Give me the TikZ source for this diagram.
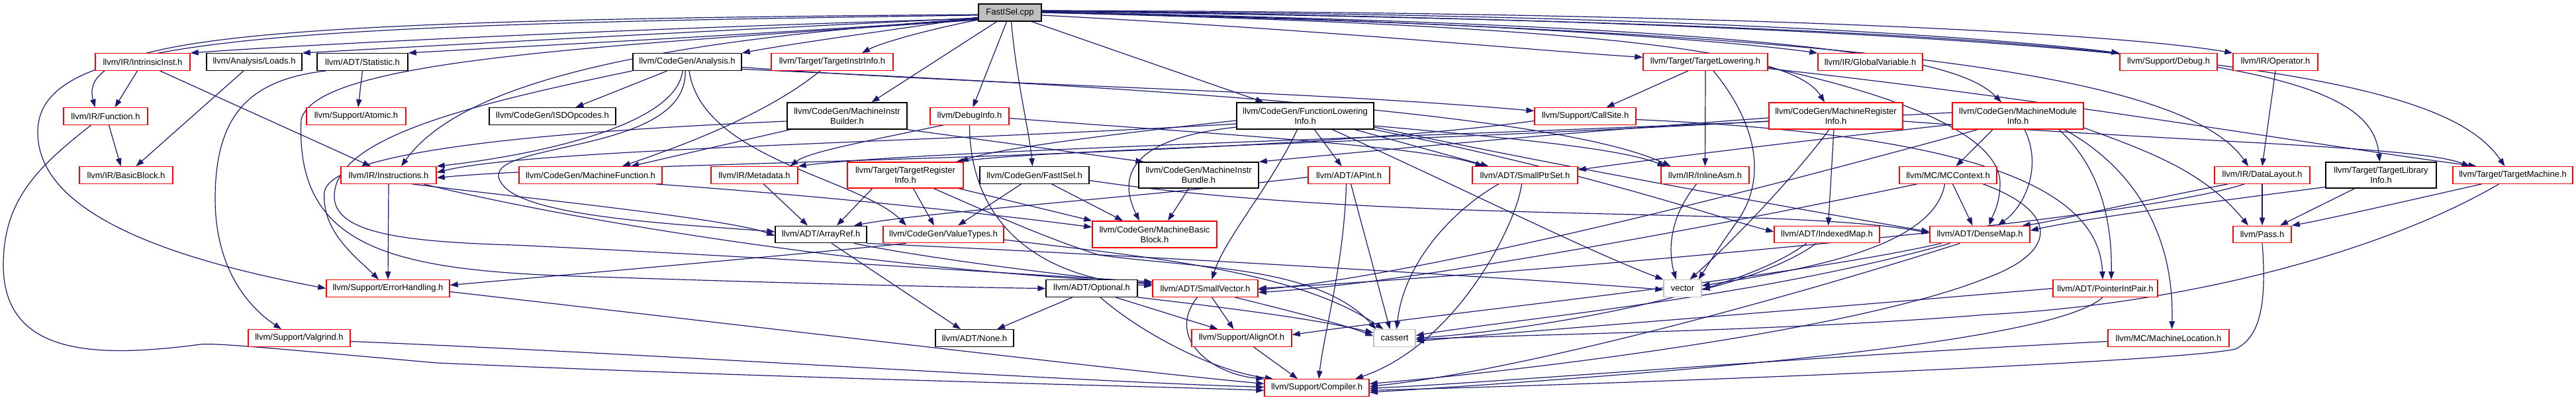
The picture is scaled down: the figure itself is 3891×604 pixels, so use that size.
\documentclass[tikz,border=0pt]{standalone}
\usepackage{fontspec}
\setmainfont{Liberation Sans}
\usetikzlibrary{arrows.meta}
\definecolor{edgeblue}{RGB}{25,25,112}
\definecolor{nodegray}{RGB}{191,191,191}
\pgfdeclarelayer{bg}
\pgfsetlayers{bg,main}
\begin{document}
\begin{tikzpicture}[x=1pt,y=-1pt,
  box/.style={draw, line width=1.4pt, inner sep=0pt, minimum height=25.5pt, align=center, font=\fontsize{13}{15}\selectfont, text=black, fill=white},
  rbox/.style={box, draw=red},
  kbox/.style={box, draw=black},
  gbox/.style={box, draw=nodegray},
  dep/.style={draw=edgeblue, line width=1.2pt, -{Triangle[length=12pt,width=8.5pt]}},
]
\useasboundingbox (0,0) rectangle (3891,604);
% nodes
\node[kbox, fill=nodegray, minimum width=95pt, minimum height=26pt] (cpp) at (1525.5,19) {FastISel.cpp};
% row 1
\node[rbox, minimum width=143pt] (intr) at (215.5,93.5) {llvm/IR/IntrinsicInst.h};
\node[kbox, minimum width=144pt] (loads) at (384,93.5) {llvm/Analysis/Loads.h};
\node[kbox, minimum width=137pt] (stat) at (547.5,93.5) {llvm/ADT/Statistic.h};
\node[kbox, minimum width=164pt] (cga) at (1038,93.5) {llvm/CodeGen/Analysis.h};
\node[rbox, minimum width=184pt] (tii) at (1257,93.5) {llvm/Target/TargetInstrInfo.h};
\node[rbox, minimum width=188pt] (tl) at (2576,93.5) {llvm/Target/TargetLowering.h};
\node[rbox, minimum width=158pt] (gv) at (2825,93.5) {llvm/IR/GlobalVariable.h};
\node[rbox, minimum width=147pt] (dbg) at (3275.5,93.5) {llvm/Support/Debug.h};
\node[rbox, minimum width=128pt] (op) at (3437,93.5) {llvm/IR/Operator.h};
% row 2
\node[rbox, minimum width=127pt] (func) at (159.5,175.5) {llvm/IR/Function.h};
\node[rbox, minimum width=150pt] (atomic) at (538,175.5) {llvm/Support/Atomic.h};
\node[kbox, minimum width=191pt] (isd) at (834.5,175.5) {llvm/CodeGen/ISDOpcodes.h};
\node[kbox, minimum width=181pt, minimum height=40pt] (mib) at (1279.5,175) {llvm/CodeGen/MachineInstr\\Builder.h};
\node[rbox, minimum width=119pt] (dinfo) at (1464.5,175.5) {llvm/DebugInfo.h};
\node[kbox, minimum width=207pt, minimum height=40pt] (fli) at (1971.5,175) {llvm/CodeGen/FunctionLowering\\Info.h};
\node[rbox, minimum width=153pt] (cs) at (2394.5,175.5) {llvm/Support/CallSite.h};
\node[rbox, minimum width=202pt, minimum height=40pt] (mri) at (2773,175) {llvm/CodeGen/MachineRegister\\Info.h};
\node[rbox, minimum width=198pt, minimum height=40pt] (mmi) at (3048,175) {llvm/CodeGen/MachineModule\\Info.h};
% row 3
\node[rbox, minimum width=141pt] (bb) at (190.5,264.5) {llvm/IR/BasicBlock.h};
\node[rbox, minimum width=144pt] (inst) at (587,264.5) {llvm/IR/Instructions.h};
\node[rbox, minimum width=216pt] (mf) at (892,264.5) {llvm/CodeGen/MachineFunction.h};
\node[rbox, minimum width=131pt] (md) at (1139.5,264.5) {llvm/IR/Metadata.h};
\node[rbox, minimum width=175pt, minimum height=39pt] (tri) at (1367.5,264.5) {llvm/Target/TargetRegister\\Info.h};
\node[kbox, minimum width=165pt] (fisel) at (1562.5,264.5) {llvm/CodeGen/FastISel.h};
\node[kbox, minimum width=181pt, minimum height=39pt] (mibundle) at (1810.5,264.5) {llvm/CodeGen/MachineInstr\\Bundle.h};
\node[rbox, minimum width=123pt] (apint) at (2037.5,264.5) {llvm/ADT/APInt.h};
\node[rbox, minimum width=159pt] (sps) at (2303.5,264.5) {llvm/ADT/SmallPtrSet.h};
\node[rbox, minimum width=133pt] (iasm) at (2575.5,264.5) {llvm/IR/InlineAsm.h};
\node[rbox, minimum width=147pt] (mcc) at (2942.5,264.5) {llvm/MC/MCContext.h};
\node[rbox, minimum width=144pt] (dl) at (3417,264.5) {llvm/IR/DataLayout.h};
\node[kbox, minimum width=167pt, minimum height=39pt] (tli) at (3596.5,264.5) {llvm/Target/TargetLibrary\\Info.h};
\node[rbox, minimum width=181pt] (tm) at (3795.5,264.5) {llvm/Target/TargetMachine.h};
% row 4
\node[kbox, minimum width=138pt] (aref) at (1240,354) {llvm/ADT/ArrayRef.h};
\node[rbox, minimum width=182pt] (vt) at (1425,354) {llvm/CodeGen/ValueTypes.h};
\node[rbox, minimum width=188pt, minimum height=40pt] (mbb) at (1744,354) {llvm/CodeGen/MachineBasic\\Block.h};
\node[rbox, minimum width=159pt] (imap) at (2759.5,354) {llvm/ADT/IndexedMap.h};
\node[rbox, minimum width=151pt] (dmap) at (2990.5,354) {llvm/ADT/DenseMap.h};
\node[rbox, minimum width=88pt] (pass) at (3417,354) {llvm/Pass.h};
% row 5
\node[rbox, minimum width=186pt] (eh) at (586,435.5) {llvm/Support/ErrorHandling.h};
\node[kbox, minimum width=138pt] (opt) at (1649,435.5) {llvm/ADT/Optional.h};
\node[rbox, minimum width=159pt] (sv) at (1820.5,435.5) {llvm/ADT/SmallVector.h};
\node[gbox, minimum width=57pt] (vec) at (2541.5,435.5) {vector};
\node[rbox, minimum width=158pt] (pip) at (3180,435.5) {llvm/ADT/PointerIntPair.h};
% row 6
\node[rbox, minimum width=154pt] (valg) at (452,510.5) {llvm/Support/Valgrind.h};
\node[kbox, minimum width=118pt] (nonen) at (1472,510.5) {llvm/ADT/None.h};
\node[rbox, minimum width=151pt] (align) at (1875.5,510.5) {llvm/Support/AlignOf.h};
\node[gbox, minimum width=63pt] (cass) at (2106.5,510.5) {cassert};
\node[rbox, minimum width=183pt] (mloc) at (3275.5,510.5) {llvm/MC/MachineLocation.h};
% row 7
\node[rbox, minimum width=158pt] (comp) at (1989,585.5) {llvm/Support/Compiler.h};

\begin{pgfonlayer}{bg}
\fill[white] (0,0) rectangle (3891,604);
% from FastISel.cpp
\draw[dep] ([yshift=-9pt]cpp.west) .. controls (900,45) and (450,68) .. (intr.north east);
\draw[dep] ([yshift=-8pt]cpp.west) .. controls (1000,50) and (600,72) .. (loads.north east);
\draw[dep] ([yshift=-10pt]cpp.west) .. controls (1100,55) and (750,72) .. (stat.north east);
\draw[dep] ([yshift=-3pt]cpp.west) .. controls (400,30) and (115,55) .. ([xshift=-16pt]func.north);
\draw[dep] ([yshift=-4pt]cpp.west) .. controls (350,38) and (57,60) .. (57,200) .. controls (57,320) and (250,390) .. (eh.west);
\draw[dep] ([yshift=-7pt]cpp.west) .. controls (1350,45) and (1200,65) .. (cga.north east);
\draw[dep] ([yshift=-11pt]cpp.west) .. controls (1400,45) and (1330,65) .. ([xshift=45pt]tii.north);
\draw[dep] ([yshift=-9pt]cpp.west) .. controls (1000,60) and (700,120) .. ([xshift=19pt]inst.north);
\draw[dep] ([yshift=-11pt]cpp.west) .. controls (900,70) and (480,90) .. (455,180) .. controls (445,380) and (600,410) .. (900,418) .. controls (1200,428) and (1450,434) .. (opt.west);
\draw[dep] ([xshift=2pt]cpp.south) .. controls (1535,120) and (1555,200) .. ([xshift=-3pt]fisel.north);
\draw[dep] ([xshift=33pt]cpp.south) -- ([xshift=-63pt]fli.north);
\draw[dep] ([xshift=-20pt]cpp.south) -- ([xshift=37pt]mib.north);
\draw[dep] ([xshift=-5pt]cpp.south) -- ([xshift=5pt]dinfo.north);
\draw[dep] ([yshift=-4pt]cpp.east) .. controls (2000,45) and (2300,75) .. ([yshift=7pt]tl.west);
\draw[dep] ([yshift=1pt]cpp.east) .. controls (2200,30) and (2600,60) .. (gv.north west);
\draw[dep] ([yshift=2pt]cpp.east) .. controls (2500,20) and (3000,55) .. (dbg.north west);
\draw[dep] ([yshift=3pt]cpp.east) .. controls (2600,18) and (3200,50) .. (op.north west);
\draw[dep] (cpp.east) .. controls (2450,40) and (2710,80) .. ([xshift=-17pt]mri.north);
\draw[dep] ([yshift=1pt]cpp.east) .. controls (2750,40) and (2960,90) .. ([xshift=-25pt]mmi.north);
\draw[dep] (cpp.east) .. controls (2800,45) and (3300,110) .. ([xshift=-21pt]dl.north);
\draw[dep] ([yshift=2pt]cpp.east) .. controls (3300,40) and (3580,100) .. ([xshift=-2pt]tli.north);
\draw[dep] ([yshift=3pt]cpp.east) .. controls (3400,40) and (3700,130) .. ([xshift=-12pt]tm.north);
% row 1
\draw[dep] ([xshift=-8pt]intr.south) -- ([xshift=14pt]func.north);
\draw[dep] ([xshift=26pt]intr.south) -- ([xshift=-27pt]inst.north);
\draw[dep] ([xshift=-16pt]loads.south) -- ([xshift=15pt]bb.north);
\draw[dep] (stat.south) -- ([xshift=3pt]atomic.north);
\draw[dep] ([xshift=-55pt]stat.south) .. controls (380,120) and (325,170) .. (325,300) .. controls (325,400) and (370,460) .. ([xshift=-27pt]valg.north);
\draw[dep] ([xshift=-30pt]cga.south) -- ([xshift=35pt]isd.north);
\draw[dep] ([xshift=-7pt]cga.south) .. controls (1020,200) and (760,240) .. (inst.north east);
\draw[dep] ([xshift=-3pt]cga.south) .. controls (1040,240) and (700,210) .. (760,280) .. controls (800,330) and (1050,340) .. ([yshift=4pt]aref.west);
\draw[dep] ([xshift=3pt]cga.south) .. controls (1060,240) and (1300,270) .. ([xshift=-56pt]vt.north);
\draw[dep] (cga.south west) .. controls (700,160) and (500,210) .. (505,300) .. controls (510,350) and (600,365) .. (776,370) .. controls (1200,390) and (1550,415) .. ([yshift=10pt]sv.west);
\draw[dep] ([yshift=-8pt]cga.east) .. controls (1500,130) and (1950,135) .. ([yshift=8pt]cs.west);
\draw[dep] ([yshift=-11pt]cga.east) .. controls (1700,130) and (2350,170) .. ([xshift=-52pt]iasm.north);
\draw[dep] ([xshift=-18pt]tii.south) .. controls (1150,180) and (1000,230) .. ([xshift=48pt]mf.north);
\draw[dep] ([xshift=-26pt]tl.south) -- ([xshift=32pt]cs.north);
\draw[dep] (tl.south) -- (iasm.north);
\draw[dep] ([xshift=12pt]tl.south) .. controls (2640,170) and (2680,260) .. (2620,340) .. controls (2595,375) and (2580,400) .. ([xshift=24pt]vec.north);
\draw[dep] ([yshift=-8pt]tl.east) .. controls (2850,140) and (3025,200) .. (3021,280) .. controls (3020,310) and (3010,325) .. ([xshift=14pt]dmap.north);
\draw[dep] ([yshift=-10pt]tl.east) .. controls (3100,150) and (3500,220) .. ([xshift=-55pt]tm.north);
\draw[dep] (op.south) -- (dl.north);
% row 2
\draw[dep] ([xshift=5pt]func.south) -- ([xshift=-8pt]bb.north);
\draw[dep] ([xshift=-22pt]func.south) .. controls (60,250) and (5,300) .. (5,400) .. controls (5,540) and (150,540) .. (303,520) .. controls (330,518) and (400,525) .. (660,548) .. controls (1200,572) and (1700,582) .. ([yshift=-4pt]comp.west);
\draw[dep] ([xshift=-86pt]mib.south) -- ([xshift=61pt]mf.north);
\draw[dep] (mib.south east) -- ([xshift=8pt]mibundle.north west);
\draw[dep] ([yshift=-8pt]mib.west) .. controls (800,200) and (500,230) .. (490,290) .. controls (485,350) and (540,390) .. ([xshift=-14pt]eh.north);
\draw[dep] ([xshift=-40pt]dinfo.south) .. controls (1300,215) and (1220,230) .. ([xshift=-12pt]md.north east);
\draw[dep] ([yshift=-3pt]dinfo.east) .. controls (1800,200) and (2150,220) .. ([xshift=-63pt]sps.north);
\draw[dep] (dinfo.south) .. controls (1465,330) and (1560,420) .. ([yshift=4pt]sv.west);
\draw[dep] ([yshift=-7pt]fli.west) .. controls (1700,200) and (1500,225) .. ([xshift=-5pt]tri.north east);
\draw[dep] ([yshift=-12pt]fli.west) .. controls (1400,215) and (800,225) .. ([yshift=4pt]inst.east);
\draw[dep] ([xshift=14pt]fli.south) -- ([xshift=-11pt]apint.north);
\draw[dep] ([xshift=75pt]fli.south) -- ([xshift=-55pt]sps.north);
\draw[dep] ([yshift=-15pt]fli.east) .. controls (2300,210) and (2450,225) .. ([xshift=-60pt]iasm.north);
\draw[dep] ([yshift=-17pt]fli.east) .. controls (2450,270) and (2800,330) .. ([yshift=4pt]dmap.west);
\draw[dep] (fli.south east) .. controls (2400,260) and (2600,330) .. ([yshift=4pt]imap.west);
\draw[dep] ([xshift=-12pt]fli.south) .. controls (1920,280) and (1850,360) .. ([xshift=10pt]sv.north);
\draw[dep] ([yshift=-17pt]fli.west) .. controls (1700,210) and (1690,270) .. ([xshift=-23pt]mbb.north);
\draw[dep] ([xshift=41pt]fli.south) .. controls (2200,280) and (2400,380) .. (vec.north west);
\draw[dep] ([yshift=-7pt]cs.west) .. controls (1900,240) and (900,245) .. ([yshift=-4pt]inst.east);
\draw[dep] ([yshift=-5pt]cs.east) .. controls (2900,200) and (3170,260) .. ([xshift=-4pt]pip.north);
\draw[dep] ([yshift=-8pt]mri.east) .. controls (3300,215) and (3650,220) .. ([xshift=-65pt]tm.north);
\draw[dep] ([xshift=-3pt]mri.south) -- ([xshift=2pt]imap.north);
\draw[dep] ([yshift=-3pt]mri.west) .. controls (2300,205) and (2000,235) .. (mibundle.north east);
\draw[dep] ([yshift=-8pt]mri.west) .. controls (2100,215) and (1600,225) .. ([xshift=-12pt]tri.north east);
\draw[dep] ([xshift=-10pt]mri.south) .. controls (2700,280) and (2600,380) .. ([xshift=11pt]vec.north);
\draw[dep] ([yshift=5pt]mmi.west) .. controls (2400,200) and (1400,225) .. (md.north east);
\draw[dep] ([yshift=-13pt]mmi.west) .. controls (2700,215) and (2500,240) .. ([yshift=8pt]sps.east);
\draw[dep] ([xshift=-61pt]mmi.south) .. controls (2500,330) and (2100,420) .. ([yshift=-2pt]sv.east);
\draw[dep] ([xshift=-38pt]mmi.south) -- ([xshift=12pt]mcc.north);
\draw[dep] ([xshift=10pt]mmi.south) .. controls (3085,250) and (3060,310) .. ([xshift=27pt]dmap.north);
\draw[dep] ([xshift=62pt]mmi.south) .. controls (3180,260) and (3190,350) .. ([xshift=9pt]pip.north);
\draw[dep] ([xshift=70pt]mmi.south) .. controls (3200,240) and (3285,330) .. ([xshift=5pt]mloc.north);
\draw[dep] ([yshift=-18pt]mmi.east) .. controls (3250,230) and (3330,260) .. ([xshift=-21pt]pass.north);
% row 3
\draw[dep] (inst.south) -- (eh.north);
\draw[dep] ([xshift=36pt]inst.south) .. controls (800,300) and (1100,330) .. ([yshift=-2pt]aref.west);
\draw[dep] ([xshift=53pt]inst.south) .. controls (850,330) and (1300,405) .. ([yshift=8pt]sv.west);
\draw[dep] ([xshift=99pt]mf.south) .. controls (1300,300) and (1550,330) .. ([yshift=11pt]mbb.west);
\draw[dep] ([xshift=14pt]md.south) -- ([xshift=-20pt]aref.north);
\draw[dep] ([xshift=-50pt]tri.south) -- ([xshift=24pt]aref.north);
\draw[dep] ([xshift=12pt]tri.south) -- ([xshift=-14pt]vt.north);
\draw[dep] ([xshift=81pt]tri.south) -- (mbb.north west);
\draw[dep] ([xshift=43pt]tri.south) .. controls (1480,315) and (1580,360) .. (1660,385) .. controls (1800,405) and (1990,400) .. ([xshift=-28pt]cass.north);
\draw[dep] ([xshift=-20pt]fisel.south) -- ([xshift=22pt]vt.north);
\draw[dep] ([xshift=26pt]fisel.south) -- ([xshift=-48pt]mbb.north);
\draw[dep] ([yshift=-8pt]fisel.east) .. controls (2100,340) and (2700,310) .. ([yshift=2pt]dmap.west);
\draw[dep] ([xshift=-15pt]mibundle.south) -- ([xshift=20pt]mbb.north);
\draw[dep] ([yshift=-3pt]apint.west) .. controls (1700,300) and (1400,320) .. ([xshift=50pt]aref.north);
\draw[dep] ([xshift=-4pt]apint.south) .. controls (2030,400) and (2000,500) .. ([xshift=3pt]comp.north);
\draw[dep] ([xshift=3pt]apint.south) -- ([xshift=-7pt]cass.north);
\draw[dep] ([xshift=-40pt]sps.south) .. controls (2190,320) and (2120,400) .. ([xshift=3pt]cass.north);
\draw[dep] ([xshift=-5pt]sps.south) .. controls (2290,340) and (2200,520) .. ([xshift=58pt]comp.north);
\draw[dep] ([xshift=-13pt]iasm.south) .. controls (2520,330) and (2520,380) .. ([xshift=-10pt]vec.north);
\draw[dep] ([xshift=7pt]mcc.south) -- ([xshift=-11pt]dmap.north);
\draw[dep] ([xshift=-5pt]mcc.south) .. controls (2920,380) and (2700,410) .. ([yshift=4pt]vec.east);
\draw[dep] ([xshift=-47pt]mcc.south) .. controls (2500,360) and (2100,430) .. ([yshift=-6pt]sv.east);
\draw[dep] ([xshift=53pt]mcc.south) .. controls (3110,320) and (3110,380) .. (3000,420) .. controls (2800,500) and (2300,560) .. ([yshift=6pt]comp.east);
\draw[dep] ([xshift=-52pt]dl.south) .. controls (3200,310) and (3100,335) .. ([xshift=-12pt]dmap.north east);
\draw[dep] ([xshift=-27pt]dl.south) .. controls (3200,340) and (2200,420) .. (sv.east);
\draw[dep] (dl.south) -- (pass.north);
\draw[dep] ([yshift=-18pt]tli.west) .. controls (3300,310) and (3150,330) .. ([yshift=6pt]dmap.east);
\draw[dep] ([xshift=-40pt]tli.south) -- ([xshift=27pt]pass.north);
\draw[dep] ([xshift=-47pt]tm.south) .. controls (3650,300) and (3520,330) .. (pass.north east);
\draw[dep] ([xshift=-21pt]tm.south) .. controls (3600,380) and (3300,460) .. (3000,475) .. controls (2700,500) and (2300,505) .. ([yshift=-2pt]cass.east);
% row 4
\draw[dep] ([xshift=16pt]aref.south) -- ([xshift=-21pt]nonen.north);
\draw[dep] ([xshift=50pt]aref.south) .. controls (1400,390) and (1600,415) .. ([yshift=6pt]sv.west);
\draw[dep] (aref.south east) .. controls (1700,385) and (2300,420) .. ([yshift=-2pt]vec.west);
\draw[dep] ([xshift=-56pt]vt.south) .. controls (1200,385) and (800,420) .. ([yshift=5pt]eh.east);
\draw[dep] ([yshift=-8pt]vt.east) .. controls (1750,390) and (1960,410) .. ([xshift=-17pt]cass.north);
\draw[dep] ([xshift=-31pt]imap.south) .. controls (2620,450) and (2300,500) .. (cass.east);
\draw[dep] ([xshift=-16pt]imap.south) .. controls (2700,400) and (2620,425) .. ([yshift=-2pt]vec.east);
\draw[dep] ([xshift=-58pt]dmap.south) .. controls (2700,420) and (2200,470) .. ([yshift=5pt]align.east);
\draw[dep] ([xshift=-30pt]dmap.south) .. controls (2700,450) and (2300,560) .. ([yshift=2pt]comp.east);
\draw[dep] ([xshift=-45pt]dmap.south) .. controls (2650,450) and (2300,480) .. ([yshift=4pt]cass.east);
\draw[dep] (pass.south) .. controls (3425,470) and (3410,510) .. (3377,527) .. controls (3300,545) and (2600,575) .. ([yshift=-4pt]comp.east);
% row 5
\draw[dep] ([yshift=-5pt]eh.east) .. controls (1200,500) and (1700,560) .. ([yshift=6pt]comp.west);
\draw[dep] ([xshift=-29pt]opt.south) -- ([xshift=34pt]nonen.north);
\draw[dep] ([xshift=36pt]opt.south) -- ([xshift=-36pt]align.north);
\draw[dep] ([xshift=13pt]opt.south) .. controls (1720,500) and (1830,560) .. ([xshift=-66pt]comp.north);
\draw[dep] (opt.south east) .. controls (1900,470) and (2000,485) .. ([yshift=8pt]cass.west);
\draw[dep] ([xshift=10pt]sv.south) -- ([xshift=-12pt]align.north);
\draw[dep] ([xshift=-12pt]sv.south) .. controls (1760,510) and (1830,565) .. (comp.north west);
\draw[dep] ([xshift=45pt]sv.south) .. controls (1950,470) and (2030,490) .. ([yshift=3pt]cass.west);
\draw[dep] (pip.west) .. controls (2700,470) and (2300,500) .. ([yshift=-5pt]cass.east);
\draw[dep] ([xshift=-4pt]pip.south) .. controls (3100,520) and (2500,565) .. ([yshift=-7pt]comp.east);
% row 6
\draw[dep] ([yshift=-5pt]valg.east) .. controls (1000,535) and (1600,575) .. ([yshift=1pt]comp.west);
\draw[dep] ([xshift=18pt]align.south) -- ([xshift=-29pt]comp.north);
\draw[dep] ([yshift=-5pt]mloc.west) .. controls (2700,540) and (2300,575) .. ([yshift=-1pt]comp.east);
\end{pgfonlayer}
\end{tikzpicture}
\end{document}
